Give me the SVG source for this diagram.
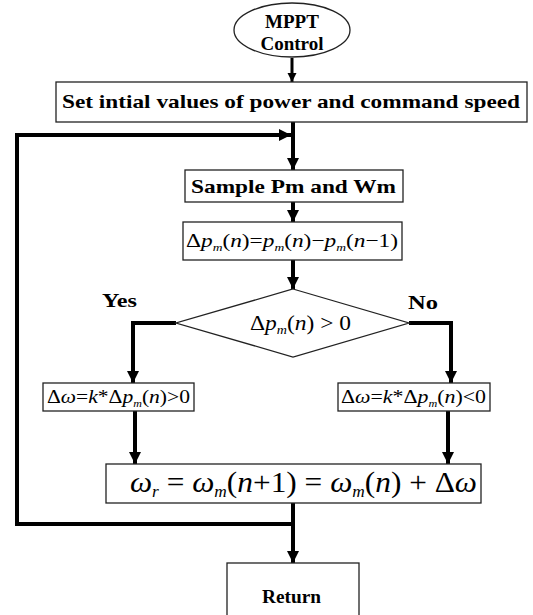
<svg xmlns="http://www.w3.org/2000/svg" width="533" height="615" viewBox="0 0 533 615">
<style>
.box{fill:#fff;stroke:#222;stroke-width:1.3}
.b{font-family:'Liberation Serif','DejaVu Serif',serif;font-weight:bold;fill:#000}
.m{font-family:'Liberation Serif','DejaVu Serif',serif;font-style:italic;fill:#000}
.u{font-style:normal}
.c{fill:none;stroke:#000;stroke-width:4}
.t{fill:none;stroke:#000;stroke-width:3}
</style>
<defs>
<marker id="ah" viewBox="0 0 10 10" refX="10" refY="5" markerWidth="3" markerHeight="3.2" orient="auto" markerUnits="strokeWidth">
<path d="M0,0 L10,5 L0,10 Z" fill="#000"/>
</marker>
</defs>
<rect width="533" height="615" fill="#fff"/>
<g id="connectors">
<line class="t" x1="292" y1="58" x2="292" y2="82" marker-end="url(#ah)"/>
<line class="c" x1="293" y1="122" x2="293" y2="170" marker-end="url(#ah)"/>
<line class="c" x1="293" y1="202" x2="293" y2="222" marker-end="url(#ah)"/>
<line class="c" x1="293" y1="260" x2="293" y2="289" marker-end="url(#ah)"/>
<polyline class="c" points="176,323 133,323 133,383" marker-end="url(#ah)"/>
<polyline class="c" points="409,323 451,323 451,383" marker-end="url(#ah)"/>
<line class="c" x1="135" y1="411" x2="135" y2="464" marker-end="url(#ah)"/>
<line class="c" x1="448" y1="411" x2="448" y2="464" marker-end="url(#ah)"/>
<line class="c" x1="293" y1="503" x2="293" y2="563" marker-end="url(#ah)"/>
<polyline class="c" points="293,524 17,524 17,135 291,135" marker-end="url(#ah)"/>
</g>
<g id="start">
<ellipse cx="292" cy="30" rx="58" ry="27" class="box"/>
<text class="b" x="292" y="28" font-size="19" text-anchor="middle">MPPT</text>
<text class="b" x="292" y="50" font-size="19" text-anchor="middle">Control</text>
</g>
<g id="init">
<rect x="56" y="82" width="471" height="40" class="box"/>
<text class="b" x="62" y="108" font-size="19" textLength="458" lengthAdjust="spacingAndGlyphs">Set intial values of power and command speed</text>
</g>
<g id="sample">
<rect x="185" y="170" width="218" height="32" class="box"/>
<text class="b" x="191" y="193" font-size="19" textLength="205" lengthAdjust="spacingAndGlyphs">Sample Pm and Wm</text>
</g>
<g id="delta">
<rect x="183" y="222" width="219" height="38" class="box"/>
<text class="m" x="186" y="247" font-size="19" textLength="212" lengthAdjust="spacingAndGlyphs"><tspan class="u">Δ</tspan>p<tspan font-size="11" dy="4">m</tspan><tspan dy="-4" class="u">(</tspan>n<tspan class="u">)=</tspan>p<tspan font-size="11" dy="4">m</tspan><tspan dy="-4" class="u">(</tspan>n<tspan class="u">)−</tspan>p<tspan font-size="11" dy="4">m</tspan><tspan dy="-4" class="u">(</tspan>n<tspan class="u">−1)</tspan></text>
</g>
<g id="decision">
<polygon points="293,289 409,323 293,357 176,323" class="box"/>
<text class="m" x="250" y="330" font-size="20" textLength="101" lengthAdjust="spacingAndGlyphs"><tspan class="u">Δ</tspan>p<tspan font-size="12" dy="4">m</tspan><tspan dy="-4" class="u">(</tspan>n<tspan class="u">) &gt; 0</tspan></text>
<text class="b" x="102" y="307" font-size="19" textLength="35" lengthAdjust="spacingAndGlyphs">Yes</text>
<text class="b" x="408" y="309" font-size="19" textLength="30" lengthAdjust="spacingAndGlyphs">No</text>
</g>
<g id="pos">
<rect x="43" y="383" width="151" height="28" class="box"/>
<text class="m" x="47" y="403" font-size="18" textLength="143" lengthAdjust="spacingAndGlyphs"><tspan class="u">Δ</tspan>ω<tspan class="u">=</tspan>k<tspan class="u">*Δ</tspan>p<tspan font-size="10" dy="4">m</tspan><tspan dy="-4" class="u">(</tspan>n<tspan class="u">)&gt;0</tspan></text>
</g>
<g id="neg">
<rect x="338" y="383" width="152" height="28" class="box"/>
<text class="m" x="341" y="403" font-size="18" textLength="145" lengthAdjust="spacingAndGlyphs"><tspan class="u">Δ</tspan>ω<tspan class="u">=</tspan>k<tspan class="u">*Δ</tspan>p<tspan font-size="10" dy="4">m</tspan><tspan dy="-4" class="u">(</tspan>n<tspan class="u">)&lt;0</tspan></text>
</g>
<g id="update">
<rect x="106" y="464" width="375" height="39" class="box"/>
<text class="m" x="130" y="492" font-size="29" textLength="347" lengthAdjust="spacingAndGlyphs">ω<tspan font-size="16" dy="5">r</tspan><tspan dy="-5" class="u"> = </tspan>ω<tspan font-size="16" dy="5">m</tspan><tspan dy="-5" class="u">(</tspan>n<tspan class="u">+1) = </tspan>ω<tspan font-size="16" dy="5">m</tspan><tspan dy="-5" class="u">(</tspan>n<tspan class="u">) + Δ</tspan>ω</text>
</g>
<g id="return">
<rect x="227" y="563" width="132" height="60" class="box"/>
<text class="b" x="262" y="603" font-size="19" textLength="59" lengthAdjust="spacingAndGlyphs">Return</text>
</g>
</svg>
